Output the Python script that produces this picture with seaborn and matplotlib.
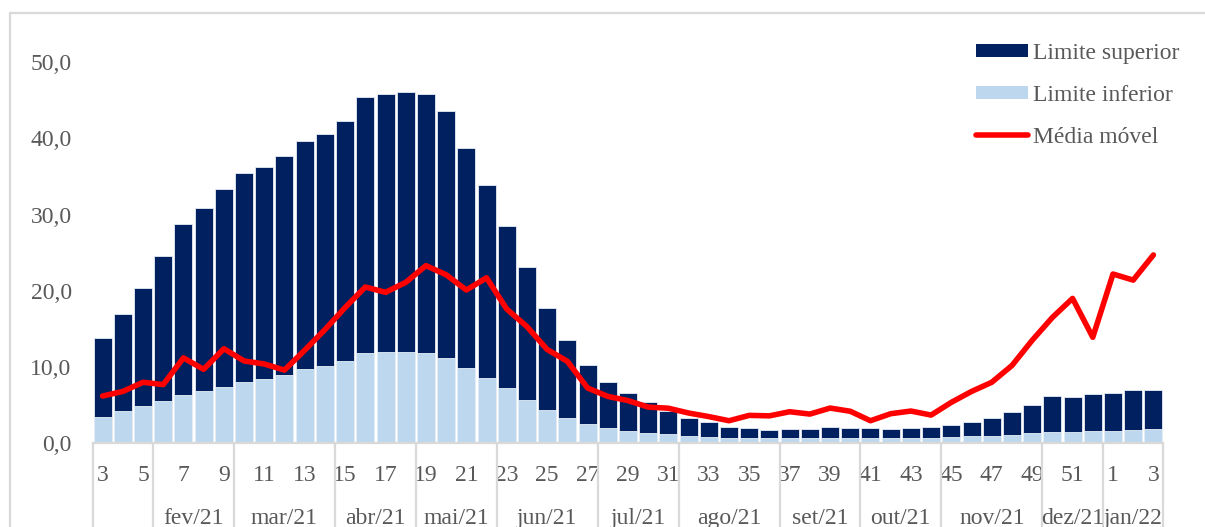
import numpy as np
import pandas as pd
import matplotlib
matplotlib.use("Agg")
import matplotlib.pyplot as plt
import matplotlib.transforms as mtransforms
from matplotlib.patches import Patch
from matplotlib.lines import Line2D
import seaborn as sns

# ---------------- data ----------------
weeks = [3, 4, 5, 6, 7, 8, 9, 10, 11, 12, 13, 14, 15, 16, 17, 18, 19, 20, 21, 22,
         23, 24, 25, 26, 27, 28, 29, 30, 31, 32, 33, 34, 35, 36, 37, 38, 39, 40,
         41, 42, 43, 44, 45, 46, 47, 48, 49, 50, 51, 52, 1, 2, 3]
years = [2021] * 50 + [2022] * 3

limite_superior = [13.8, 17.0, 20.3, 24.5, 28.7, 30.8, 33.4, 35.4, 36.2, 37.7,
                   39.7, 40.5, 42.3, 45.4, 45.8, 46.1, 45.8, 43.6, 38.7, 33.9,
                   28.5, 23.1, 17.8, 13.6, 10.3, 8.0, 6.55, 5.4, 4.2, 3.35,
                   2.8, 2.17, 2.0, 1.73, 1.87, 1.9, 2.08, 2.0, 1.95, 1.9,
                   2.04, 2.12, 2.39, 2.78, 3.26, 4.14, 5.0, 6.2, 6.07, 6.5,
                   6.6, 7.03, 7.03]
limite_inferior = [3.44, 4.18, 4.84, 5.58, 6.37, 6.9, 7.42, 8.04, 8.38, 9.0,
                   9.75, 10.2, 10.8, 11.8, 12.0, 12.0, 11.85, 11.2, 9.9, 8.6,
                   7.2, 5.67, 4.36, 3.3, 2.56, 2.0, 1.64, 1.38, 1.2, 0.98,
                   0.85, 0.72, 0.68, 0.64, 0.68, 0.68, 0.68, 0.68, 0.66, 0.65,
                   0.66, 0.68, 0.77, 0.9, 0.98, 1.1, 1.3, 1.5, 1.42, 1.6,
                   1.6, 1.77, 1.86]
media_movel = [6.2, 6.8, 8.0, 7.7, 11.2, 9.7, 12.4, 10.8, 10.4, 9.6,
               12.2, 14.9, 17.8, 20.5, 19.8, 21.1, 23.3, 22.1, 20.1, 21.7,
               17.6, 15.3, 12.3, 10.75, 7.25, 6.15, 5.6, 4.75, 4.6, 3.97,
               3.5, 2.96, 3.66, 3.6, 4.14, 3.83, 4.62, 4.2, 2.96, 3.88,
               4.23, 3.7, 5.37, 6.8, 8.0, 10.2, 13.5, 16.5, 19.0, 13.9,
               22.2, 21.4, 24.7]

month_labels = ["", "fev/21", "mar/21", "abr/21", "mai/21", "jun/21", "jul/21",
                "ago/21", "set/21", "out/21", "nov/21", "dez/21", "jan/22"]
month_sizes = [3, 4, 5, 4, 4, 5, 4, 5, 4, 4, 5, 3, 3]

y_ticks = [0, 10, 20, 30, 40, 50]

NAVY = "#002060"
LIGHT = "#BDD7EE"
RED = "#FF0000"
TXT = "#595959"
GRID = "#D9D9D9"

# ---------------- style ----------------
sns.set_style("white")
plt.rcParams["font.family"] = ["Liberation Serif", "DejaVu Serif"]
FS = 17

df = pd.DataFrame({
    "key": [f"{y}-{w:02d}" for y, w in zip(years, weeks)],
    "semana": weeks,
    "sup": limite_superior,
    "inf": limite_inferior,
    "media": media_movel,
})
df["pos"] = np.arange(len(df))
n = len(df)

W, H = 1205, 527
fig = plt.figure(figsize=(W / 100, H / 100), dpi=100)
ax_left, ax_right, ax_bottom, ax_top = 92.5, 1163.5, 443.3, 62.0
ax = fig.add_axes([ax_left / W, (H - ax_bottom) / H,
                   (ax_right - ax_left) / W, (ax_bottom - ax_top) / H])

sns.barplot(data=df, x="key", y="sup", color=NAVY, saturation=1, width=0.89,
            errorbar=None, edgecolor="#E8ECF4", linewidth=0.6, ax=ax)
sns.barplot(data=df, x="key", y="inf", color=LIGHT, saturation=1, width=0.89,
            errorbar=None, edgecolor="#E8F0F8", linewidth=0.6, ax=ax)
sns.lineplot(data=df, x="pos", y="media", color=RED, linewidth=4.0, ax=ax,
             legend=False, solid_joinstyle="round", solid_capstyle="round")

ax.set_xlim(-0.5, n - 0.5)
ax.set_ylim(0, 50)
ax.set_xlabel("")
ax.set_ylabel("")

ax.set_xticks(range(n))
ax.set_xticklabels([str(w) if w % 2 == 1 else "" for w in weeks])
ax.set_yticks(y_ticks)
ax.set_yticklabels([f"{v:.1f}".replace(".", ",") for v in y_ticks])
ax.tick_params(axis="x", length=0, pad=15.5, labelsize=FS, labelcolor=TXT)
ax.tick_params(axis="y", length=0, pad=15, labelsize=FS, labelcolor=TXT)

for s in ["top", "right", "left"]:
    ax.spines[s].set_visible(False)
ax.spines["bottom"].set_color(GRID)
ax.spines["bottom"].set_linewidth(1.6)
ax.grid(False)

# month groups
trans = mtransforms.blended_transform_factory(ax.transData, ax.transAxes)
start = -0.5
ax.plot([start, start], [0, -0.3], color=GRID, lw=1.6, transform=trans, clip_on=False)
for lab, size in zip(month_labels, month_sizes):
    end = start + size
    ax.plot([end, end], [0, -0.3], color=GRID, lw=1.6, transform=trans, clip_on=False)
    if lab:
        ax.text((start + end) / 2, -0.196, lab, transform=trans, ha="center",
                va="center", fontsize=FS, color=TXT)
    start = end

# legend
handles = [Patch(facecolor=NAVY, edgecolor="none"),
           Patch(facecolor=LIGHT, edgecolor="none"),
           Line2D([0], [0], color=RED, lw=4.0, solid_capstyle="round")]
labels = ["Limite superior", "Limite inferior", "Média móvel"]
leg = fig.legend(handles, labels, loc="upper left",
                 bbox_to_anchor=(976 / W, 1 - 43 / H), frameon=False,
                 fontsize=FS, handlelength=2.2, handleheight=0.5,
                 handletextpad=0.2, labelspacing=0.88, borderpad=0,
                 borderaxespad=0)
for t in leg.get_texts():
    t.set_color(TXT)

# outer chart frame (top and left edges visible)
fig.add_artist(Line2D([10 / W, 10 / W], [0, 1 - 13 / H], color=GRID, lw=1.6,
                      transform=fig.transFigure))
fig.add_artist(Line2D([10 / W, 1], [1 - 13 / H, 1 - 13 / H], color=GRID, lw=1.6,
                      transform=fig.transFigure))

fig.savefig("out.png", dpi=100)
